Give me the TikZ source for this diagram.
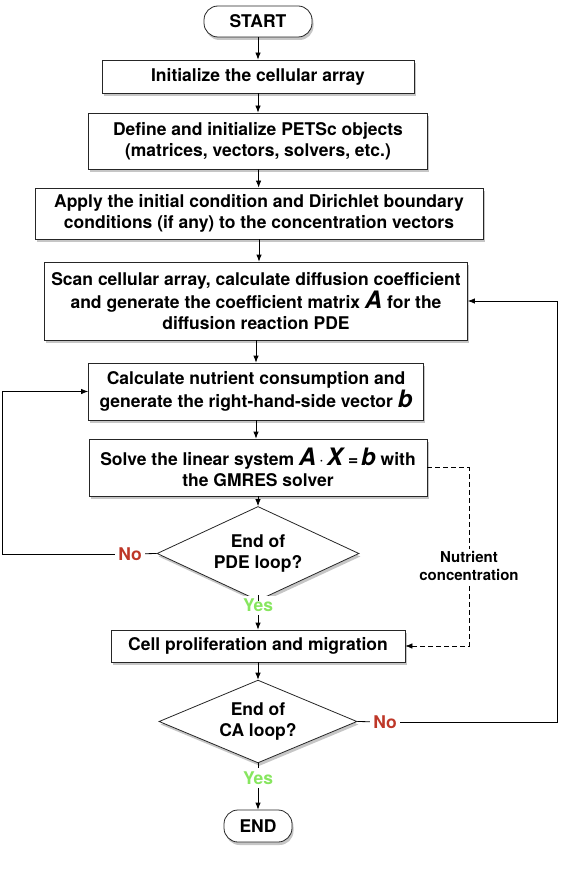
\documentclass[tikz,border=0pt]{standalone}
\usepackage{fontspec}
\setmainfont{TeX Gyre Heros}
\usetikzlibrary{shapes.geometric,shadows,arrows.meta}

\definecolor{nored}{RGB}{190,55,40}
\definecolor{yesgreen}{RGB}{135,230,95}
\newcommand{\bigvar}[1]{{\fontsize{24}{21}\selectfont\textit{#1}}}

\begin{document}
\begin{tikzpicture}[x=1pt,y=-1pt,>={Latex[length=7pt,width=5.5pt]},line width=0.8pt]
\tikzstyle{every node}+=[inner sep=0pt,font=\fontsize{17.5}{21}\selectfont\bfseries]
\tikzstyle{proc}=[draw=black!85,fill=white,align=center,drop shadow={shadow xshift=1.5pt,shadow yshift=-3pt,opacity=0.45}]
\tikzstyle{term}=[proc,rounded corners=14pt]
\tikzstyle{cond}=[proc,diamond,inner sep=-8pt]
\tikzstyle{nolab}=[fill=white,inner sep=3pt,text=nored]
\tikzstyle{yeslab}=[fill=white,inner sep=3pt,text=yesgreen]
\useasboundingbox (0,0) rectangle (562,869);
\node [term,minimum width=108,minimum height=31] (start) at (258,21.5) {START};
\node [proc,minimum width=312,minimum height=33] (init) at (258,76.5) {Initialize the cellular array};
\node [proc,minimum width=339,minimum height=56] (define) at (258,141) {Define and initialize PETSc objects\\(matrices, vectors, solvers, etc.)};
\node [proc,minimum width=448,minimum height=51] (apply) at (259,213.5) {Apply the initial condition and Dirichlet boundary\\conditions (if any) to the concentration vectors};
\node [proc,minimum width=423,minimum height=78] (scan) at (256,301) {Scan cellular array, calculate diffusion coefficient\\and generate the coefficient matrix \bigvar{A} for the\\diffusion reaction PDE};
\node [proc,minimum width=335,minimum height=57] (calc) at (256,391.5) {Calculate nutrient consumption and\\generate the right-hand-side vector \bigvar{b}};
\node [proc,minimum width=338,minimum height=57] (solve) at (258,467.5) {Solve the linear system \bigvar{A}$\,\cdot\,$\bigvar{X}\,=\,\bigvar{b} with\\the GMRES solver};
\node [cond,minimum width=202,minimum height=67] (pde) at (258,553.5) {End of\\PDE loop?};
\node [proc,minimum width=294,minimum height=32] (cell) at (258,646) {Cell proliferation and migration};
\node [cond,minimum width=198,minimum height=67] (ca) at (258,721.5) {End of\\CA loop?};
\node [term,minimum width=68,minimum height=32] (end) at (258,826) {END};
\node [nolab] (no1) at (130,554) {No};
\node [yeslab] (yes1) at (258,605) {Yes};
\node [nolab] (no2) at (385,722) {No};
\node [yeslab] (yes2) at (258,778) {Yes};
\coordinate (lft) at (2,391.5);
\coordinate (rgt) at (557,301);
\coordinate (dsh) at (469,646);
\draw [->] (start) -- (init);
\draw [->] (init) -- (define);
\draw [->] (define) -- (apply);
\draw [->] (apply.south) -- (apply.south |- scan.north);
\draw [->] (scan.south) -- (scan.south |- calc.north);
\draw [->] (calc.south) -- (calc.south |- solve.north);
\draw [->] (solve) -- (pde);
\draw (pde) -- (yes1);
\draw [->] (yes1) -- (cell);
\draw [->] (cell) -- (ca);
\draw (ca) -- (yes2);
\draw [->] (yes2) -- (end);
\draw (pde.west) -- (no1);
\draw [->] (no1) -| (lft) -- (calc.west);
\draw (ca.east) -- (no2);
\draw [->] (no2) -| (rgt) -- (scan.east);
\draw [->,dash pattern=on 5pt off 3pt,line width=0.6pt] (solve.east) -| (dsh) -- (cell.east);
\node [fill=white,inner sep=2pt,align=center,font=\fontsize{15}{18}\selectfont\bfseries] (nutr) at (469,566) {Nutrient\\concentration};
\end{tikzpicture}
\end{document}
